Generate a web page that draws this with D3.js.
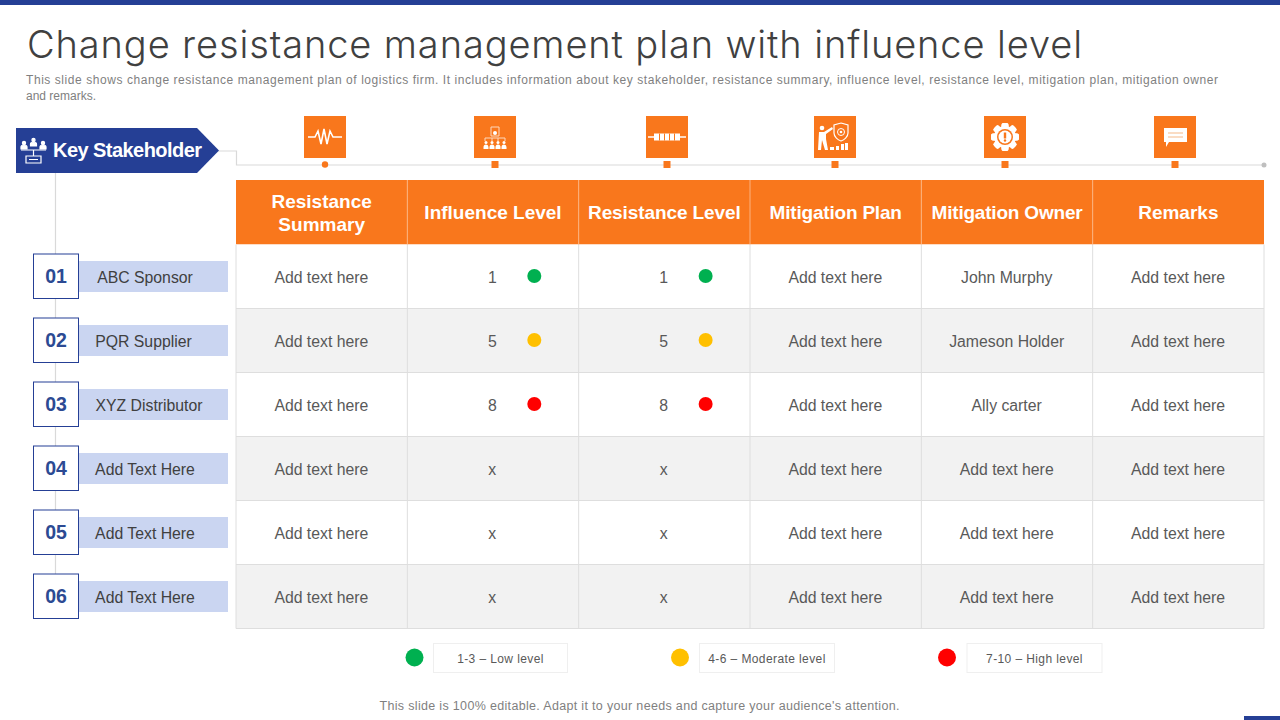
<!DOCTYPE html>
<html><head><meta charset="utf-8">
<script src="https://cdn.jsdelivr.net/npm/d3@7/dist/d3.min.js"></script>
<style>html,body{margin:0;padding:0;background:#fff;overflow:hidden}svg{display:block}
text{font-family:"Liberation Sans",Arial,sans-serif}</style></head><body>
<svg id="c" width="1280" height="720"></svg>
<script>
const titleText="Change resistance management plan with influence level";
const subtitleLines=["This slide shows change resistance management plan of logistics firm. It includes information about key stakeholder, resistance summary, influence level, resistance level, mitigation plan, mitigation owner","and remarks."];
const footerText="This slide is 100% editable. Adapt it to your needs and capture your audience's attention.";
const keyLabel="Key Stakeholder";
const columns=["Resistance Summary","Influence Level","Resistance Level","Mitigation Plan","Mitigation Owner","Remarks"];
const stakeholderNumbers=["01","02","03","04","05","06"];
const stakeholders=["ABC Sponsor","PQR Supplier","XYZ Distributor","Add Text Here","Add Text Here","Add Text Here"];
const summaryCol=["Add text here","Add text here","Add text here","Add text here","Add text here","Add text here"];
const influenceCol=[1,5,8,"x","x","x"];
const resistanceCol=[1,5,8,"x","x","x"];
const planCol=["Add text here","Add text here","Add text here","Add text here","Add text here","Add text here"];
const ownerCol=["John Murphy","Jameson Holder","Ally carter","Add text here","Add text here","Add text here"];
const remarksCol=["Add text here","Add text here","Add text here","Add text here","Add text here","Add text here"];
const legendLabels=["1-3 – Low level","4-6 – Moderate level","7-10 – High level"];
const legendColors=["#00b050","#ffc000","#ff0000"];
const levelDomain=[4,7];

const ORANGE="#f9771c",BLUE="#253f95",PALE="#cad5f1",GREY="#595959";
const svg=d3.select("#c");
const color=d3.scaleThreshold().domain(levelDomain).range(legendColors);
const x=d3.scaleBand().domain(d3.range(columns.length)).range([236,1264]);
const y=d3.scaleBand().domain(d3.range(stakeholders.length)).range([244.5,628.5]);
const tableCols=[summaryCol,influenceCol,resistanceCol,planCol,ownerCol,remarksCol];

svg.append("rect").attr("width",1280).attr("height",5).attr("fill","#253f95");
svg.append("text").attr("x",27).attr("y",58).attr("font-size",38)
  .style("font-family","Inter").attr("font-weight",300).attr("fill","#404040")
  .attr("textLength",1055).attr("lengthAdjust","spacing").text(titleText);
svg.selectAll(".sub").data(subtitleLines).join("text").attr("x",26).attr("y",(d,i)=>84+i*16)
  .attr("font-size",12).attr("fill","#7f7f7f")
  .each(function(d,i){if(i===0)d3.select(this).attr("textLength",1192).attr("lengthAdjust","spacing")}).text(d=>d);

// connector lines
const lineC="#d9d9d9";
svg.append("path").attr("d","M218 151H236.5V165H1264").attr("fill","none").attr("stroke",lineC).attr("stroke-width",1.2);
svg.append("circle").attr("cx",1264).attr("cy",165).attr("r",2.5).attr("fill","#bfbfbf");
svg.append("line").attr("x1",55.5).attr("x2",55.5).attr("y1",172).attr("y2",600).attr("stroke",lineC).attr("stroke-width",1.2);

// key stakeholder banner
svg.append("path").attr("d","M16 128H197L219 150.5L197 173H16Z").attr("fill",BLUE);
svg.append("text").attr("x",53).attr("y",157).attr("font-size",20).attr("font-weight",700).attr("fill","#fff")
  .attr("textLength",149).attr("lengthAdjust","spacing").text(keyLabel);
const kk=svg.append("g").attr("fill","none").attr("stroke","#fff").attr("stroke-width",1.2);
[[24,146],[33.5,143],[43,146]].forEach(p=>{kk.append("circle").attr("cx",p[0]).attr("cy",p[1]-3).attr("r",1.6).attr("fill","#fff");
  kk.append("path").attr("d",`M${p[0]-3} ${p[1]+3}v-2a3 2 0 0 1 6 0v2z`).attr("fill","#fff");});
kk.append("path").attr("d","M21 150H46M33.5 150V156M26 156H41V163H26ZM29 159.500H38");

// header icons
const iconCx=[325,495,667,835,1005,1175];
const icons=svg.selectAll(".ic").data(iconCx).join("g").attr("transform",d=>`translate(${d},137)`);
icons.append("rect").attr("x",-21).attr("y",-21).attr("width",42).attr("height",42).attr("fill",ORANGE);
icons.each(function(d,i){
  const g=d3.select(this);
  if(i===0){g.append("path").attr("d","M-17 0H-10L-7 -6L-4 7L-1 -8L2 7L5 -6L8 0H17").attr("fill","none").attr("stroke","#fff").attr("stroke-width",1.6);}
  if(i===1){g.append("path").attr("d","M-4 -10H4V-1H-4ZM-10 4V1H10V4M-3 4V1M3 1V4").attr("fill","none").attr("stroke","#fdd9bd").attr("stroke-width",1);
    [-9,-3,3,9].forEach(a=>{g.append("circle").attr("cx",a).attr("cy",5.500).attr("r",1.500).attr("fill","#fff");
      g.append("path").attr("d",`M${a-2.500} 12V10a2.500 2.500 0 0 1 5 0V12Z`).attr("fill","#fff");});
    g.append("circle").attr("cy",-4).attr("r",2).attr("fill","#fff");}
  if(i===2){g.append("path").attr("d","M-19 0H19").attr("stroke","#fff").attr("stroke-width",1.5);
    g.append("rect").attr("x",-13).attr("y",-3.5).attr("width",26).attr("height",7).attr("fill","#fff");
    [-7.500,-2.500,2.500,7.500].forEach(a=>g.append("line").attr("x1",a).attr("x2",a).attr("y1",-3.500).attr("y2",3.500).attr("stroke",ORANGE).attr("stroke-width",1));}
  if(i===3){g.append("circle").attr("cx",-13).attr("cy",-9).attr("r",2.300).attr("fill","#fff");
    g.append("path").attr("d","M-16 -5H-11L-3 -10L-2 -8L-9 -3V2L-7 13H-10L-13 3L-14 13H-17Z").attr("fill","#fff");
    g.append("path").attr("d","M6 -14L13 -12V-4C13 0 9 3 6 4C3 3 -1 0 -1 -4V-12Z").attr("fill","none").attr("stroke","#fff").attr("stroke-width",1.2);
    g.append("circle").attr("cx",6).attr("cy",-5).attr("r",3.500).attr("fill","none").attr("stroke","#fff").attr("stroke-width",1);
    g.append("circle").attr("cx",6).attr("cy",-5).attr("r",1.300).attr("fill","#fff");
    g.append("path").attr("d","M-5 13V10H-1V13ZM1 13V9H4V13ZM6 13V7H9V13ZM10 13V6H13V13Z").attr("fill","#fff");}
  if(i===4){const teeth=d3.range(8).map(k=>k*45);
    g.selectAll(".t").data(teeth).join("rect").attr("x",-3.500).attr("y",-14).attr("width",7).attr("height",28).attr("rx",2).attr("fill","#fff").attr("transform",a=>`rotate(${a})`);
    g.append("circle").attr("r",11).attr("fill","#fff");
    g.append("circle").attr("r",8).attr("fill",ORANGE);
    g.append("circle").attr("r",6.500).attr("fill","#fff");
    g.append("rect").attr("x",-1.200).attr("y",-4.500).attr("width",2.400).attr("height",6).attr("fill",ORANGE);
    g.append("circle").attr("cy",3.500).attr("r",1.200).attr("fill",ORANGE);}
  if(i===5){g.append("path").attr("d","M-11 -9H12V5H-6L-9 10V5H-11Z").attr("fill","#fff");
    g.append("path").attr("d","M-7 -4H8M-7 0H8").attr("stroke","#f6b98a").attr("stroke-width",1.2);}
});
svg.selectAll(".mk").data(iconCx).join(enter=>enter.append("g")).each(function(d,i){
  const g=d3.select(this);
  if(i===0)g.append("circle").attr("cx",d).attr("cy",164.500).attr("r",3.200).attr("fill",ORANGE);
  else g.append("rect").attr("x",d-3.500).attr("y",161).attr("width",7).attr("height",7).attr("fill",ORANGE);
});

// table header
const hdr=svg.selectAll(".h").data(columns).join("g");
hdr.append("rect").attr("x",(d,i)=>x(i)).attr("y",180).attr("width",x.bandwidth()).attr("height",64.500).attr("fill",ORANGE);
hdr.each(function(d,i){
  const g=d3.select(this),cx=x(i)+x.bandwidth()/2;
  const parts=i===0?d.split(" "):[d];
  const t=g.append("text").attr("text-anchor","middle").attr("font-size",19).attr("font-weight",700).attr("fill","#fff");
  parts.forEach((p,k)=>t.append("tspan").attr("x",cx).attr("y",parts.length>1?208+k*23:219).text(p));
  if(i===2)t.attr("letter-spacing",-0.1);
  if(i===3||i===4)t.attr("letter-spacing",-0.2);
});
// table body
const tb=svg.append("g");
y.domain().forEach(r=>{
  tb.append("rect").attr("x",236).attr("y",y(r)).attr("width",1028).attr("height",y.bandwidth()).attr("fill",r%2?"#f2f2f2":"#fff");
});
const gridC="#dedede";
y.domain().forEach(r=>tb.append("line").attr("x1",236).attr("x2",1264).attr("y1",y(r)+y.bandwidth()).attr("y2",y(r)+y.bandwidth()).attr("stroke",gridC).attr("stroke-width",1));
x.domain().forEach(c=>tb.append("line").attr("x1",x(c)).attr("x2",x(c)).attr("y1",244.5).attr("y2",628.5).attr("stroke",gridC).attr("stroke-width",1));
tb.append("line").attr("x1",1264).attr("x2",1264).attr("y1",244.5).attr("y2",628.5).attr("stroke",gridC);
x.domain().slice(1).forEach(c=>svg.append("line").attr("x1",x(c)).attr("x2",x(c)).attr("y1",180).attr("y2",244.5).attr("stroke","#fbb27e").attr("stroke-width",1));
tableCols.forEach((col,c)=>{
  col.forEach((v,r)=>{
    const cx=x(c)+x.bandwidth()/2-(c===1||c===2?0.7:0.3), cy=y(r)+y.bandwidth()/2;
    tb.append("text").attr("x",cx).attr("y",cy+6.500).attr("text-anchor","middle").attr("font-size",15.800).attr("fill",GREY).text(v);
    if(typeof v==="number")
      tb.append("circle").attr("cx",x(c)+x.bandwidth()/2+41.300).attr("cy",cy-0.500).attr("r",7).attr("fill",color(v));
  });
});
// stakeholder labels
const sh=svg.selectAll(".s").data(stakeholders).join("g");
sh.append("rect").attr("x",78).attr("y",(d,i)=>y(i)+y.bandwidth()/2-15.500).attr("width",150).attr("height",31).attr("fill",PALE);
sh.append("rect").attr("x",33.500).attr("y",(d,i)=>y(i)+y.bandwidth()/2-22.500).attr("width",45).attr("height",44.500).attr("fill","#fff").attr("stroke",BLUE).attr("stroke-width",1);
sh.append("text").attr("x",56).attr("y",(d,i)=>y(i)+y.bandwidth()/2+6).attr("text-anchor","middle").attr("font-size",19.500).attr("font-weight",700).attr("fill","#2c4a93").text((d,i)=>stakeholderNumbers[i]);
const shX=[145,143.500,149,145,145,145];
sh.append("text").attr("x",(d,i)=>shX[i]).attr("y",(d,i)=>y(i)+y.bandwidth()/2+6.500).attr("text-anchor","middle").attr("font-size",15.800).attr("fill","#404040").text(d=>d);
// legend
const legendBoxX=[433.500,699.500,967];
const legendBoxW=[134,135,135];
const leg=svg.selectAll(".l").data(legendLabels).join("g");
leg.append("circle").attr("cx",(d,i)=>[414.500,680,947][i]).attr("cy",657.500).attr("r",9).attr("fill",(d,i)=>legendColors[i]);
leg.append("rect").attr("x",(d,i)=>legendBoxX[i]).attr("y",643.500).attr("width",(d,i)=>legendBoxW[i]).attr("height",29).attr("fill","#fff").attr("stroke","#efefef");
leg.append("text").attr("x",(d,i)=>legendBoxX[i]+legendBoxW[i]/2).attr("y",663).attr("text-anchor","middle").attr("font-size",12).attr("letter-spacing",0.4).attr("fill",GREY).text(d=>d);
svg.append("text").attr("x",639.500).attr("y",710).attr("text-anchor","middle").attr("font-size",12.500).attr("fill","#7f7f7f").attr("textLength",520).attr("lengthAdjust","spacing").text(footerText);
svg.append("rect").attr("x",1244).attr("y",716).attr("width",36).attr("height",4).attr("fill",BLUE);
</script></body></html>
